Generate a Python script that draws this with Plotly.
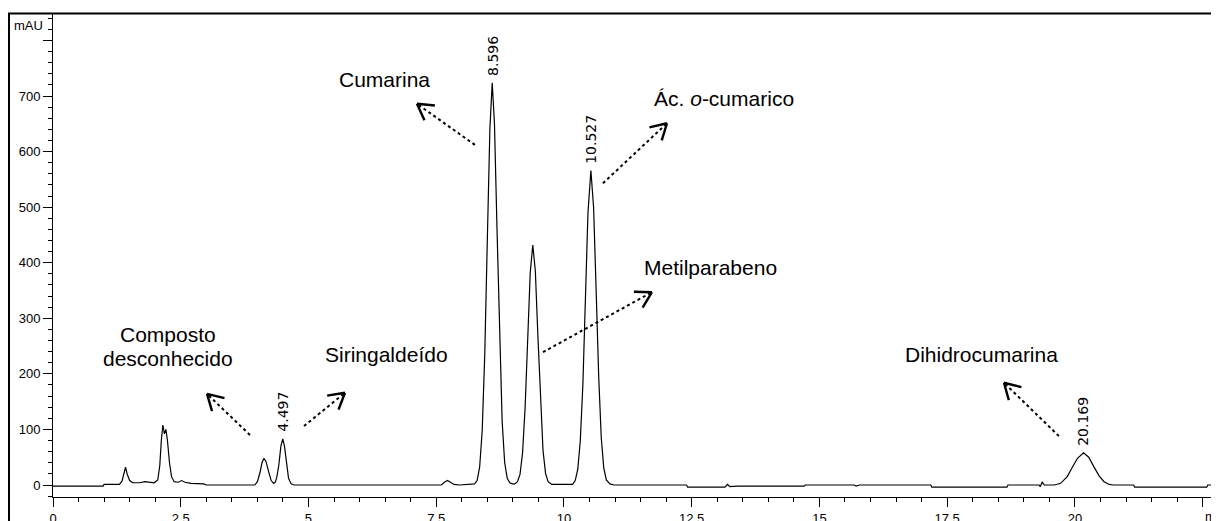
import math
import plotly.graph_objects as go

# ---------------- data ----------------
time_min = [
    0.00, 0.98, 1.00, 1.30, 1.35, 1.39, 1.42, 1.45, 1.50, 1.56, 1.70, 1.80, 1.90, 1.98,
    2.05, 2.09, 2.12, 2.15, 2.18, 2.21, 2.24, 2.28, 2.32, 2.37, 2.45, 2.52, 2.58, 2.70,
    2.95, 3.00, 3.95, 4.00, 4.05, 4.09, 4.13, 4.17, 4.22, 4.27, 4.32, 4.35, 4.38, 4.42,
    4.46, 4.497, 4.53, 4.57, 4.61, 4.66, 4.72, 7.60, 7.66, 7.72, 7.78, 7.85, 7.95, 8.25,
    8.30, 8.35, 8.40, 8.45, 8.50, 8.55, 8.596, 8.64, 8.69, 8.74, 8.79, 8.84, 8.89, 8.94,
    8.99, 9.04, 9.09, 9.14, 9.19, 9.24, 9.29, 9.34, 9.39, 9.44, 9.49, 9.54, 9.59, 9.64,
    9.69, 9.76, 10.17, 10.22, 10.27, 10.32, 10.37, 10.42, 10.47, 10.527, 10.58, 10.63,
    10.68, 10.73, 10.78, 10.83, 10.90, 10.98, 12.40, 12.42, 13.15, 13.20, 13.25, 13.39,
    14.70, 14.72, 15.68, 15.72, 15.78, 16.14, 17.18, 17.20, 18.67, 18.69, 19.30, 19.32,
    19.36, 19.40, 19.60, 19.72, 19.85, 19.95, 20.05, 20.169, 20.27, 20.37, 20.47, 20.57,
    20.67, 20.75, 21.15, 21.17, 22.58, 22.60, 22.82,
]
signal_mau = [
    -2, -2, 1, 1, 7, 25, 32, 20, 8, 4, 4, 6, 5, 4,
    9, 35, 80, 108, 92, 100, 80, 40, 15, 6, 5, 8, 5, 3,
    2, 0, 0, 6, 22, 40, 48, 42, 24, 8, 3, 5, 14, 36,
    70, 83, 70, 38, 12, 2, 0, 0, 5, 8, 5, 1, 0, 2,
    8, 32, 98, 235, 440, 640, 724, 650, 460, 260, 115, 40, 12, 4,
    2, 2, 6, 19, 58, 140, 262, 382, 432, 385, 268, 148, 62, 21,
    6, 1, 1, 8, 28, 80, 180, 335, 490, 566, 500, 350,
    195, 85, 30, 9, 2, 0, 0, -4, -4, 1, -3, -2,
    -2, 0, 0, -2, 0, 0, 0, -4, -4, 0, 0, -3,
    5, 0, 0, 3, 15, 32, 48, 58, 50, 33, 17, 6,
    1, 0, 0, -4, -4, 0, 0,
]

peak_rt = [4.497, 8.596, 10.527, 20.169]
peak_rt_labels = ["4.497", "8.596", "10.527", "20.169"]
peak_height = [83, 724, 566, 58]

ytick_vals = [0, 100, 200, 300, 400, 500, 600, 700, 800]
ytick_text = ["0", "100", "200", "300", "400", "500", "600", "700", ""]
xtick_vals = [0, 2.5, 5, 7.5, 10, 12.5, 15, 17.5, 20, 22.5]
xtick_text = ["0", "2.5", "5", "7.5", "10", "12.5", "15", "17.5", "20", ""]

# compound names and where they sit (time, mAU)
compound_text = ["Composto", "desconhecido", "Siringaldeído", "Cumarina",
                 "Ác. <i>o</i>-cumarico", "Metilparabeno", "Dihidrocumarina"]
compound_t = [2.25, 2.25, 6.52, 6.48, 13.13, 12.86, 18.18]
compound_v = [270, 227, 234, 729, 695, 392, 234]

# pointer arrows: tail (near peak) -> tip (towards the name)
arrow_tail_t = [3.855, 4.912, 8.258, 10.763, 9.589, 19.687]
arrow_tail_v = [90, 106, 612, 543, 239, 88]
arrow_tip_t = [3.014, 5.714, 7.123, 12.016, 11.722, 18.611]
arrow_tip_v = [164, 166, 686, 651, 347, 184]

# ---------------- layout geometry ----------------
# the page body adds an 8 px margin, so the figure is 8 px smaller each way
FIG_W, FIG_H = 1211, 513
M_L, M_R, M_T, M_B = 45, 0, 6, 24
X_RANGE = [0, 22.82]
Y_RANGE = [-21.6, 847.6]
PLOT_W = FIG_W - M_L - M_R
PLOT_H = FIG_H - M_T - M_B


def to_px(t, v):
    x = M_L + (t - X_RANGE[0]) / (X_RANGE[1] - X_RANGE[0]) * PLOT_W
    y = M_T + (Y_RANGE[1] - v) / (Y_RANGE[1] - Y_RANGE[0]) * PLOT_H
    return x, y


def to_data(x, y):
    t = X_RANGE[0] + (x - M_L) / PLOT_W * (X_RANGE[1] - X_RANGE[0])
    v = Y_RANGE[1] - (y - M_T) / PLOT_H * (Y_RANGE[1] - Y_RANGE[0])
    return t, v


def paper_x(px):
    return (px - M_L) / PLOT_W


def paper_y(py):
    return (FIG_H - M_B - py) / PLOT_H


FONT = "Arial, Liberation Sans, sans-serif"

fig = go.Figure()
fig.add_trace(go.Scatter(
    x=time_min, y=signal_mau, mode="lines",
    line=dict(color="black", width=1.2),
    hoverinfo="skip", showlegend=False,
))

annotations = []
for rt, lab, h in zip(peak_rt, peak_rt_labels, peak_height):
    annotations.append(dict(
        x=rt, y=h, xref="x", yref="y", text=lab, showarrow=False,
        textangle=-90, xanchor="center", yanchor="bottom", yshift=5,
        font=dict(family="DejaVu Sans, sans-serif", size=14, color="black"),
    ))

for txt, t, v in zip(compound_text, compound_t, compound_v):
    annotations.append(dict(
        x=t, y=v, xref="x", yref="y", text=txt, showarrow=False,
        xanchor="center", yanchor="middle",
        font=dict(family=FONT, size=21, color="black"),
    ))

annotations.append(dict(
    x=paper_x(37), y=paper_y(17), xref="paper", yref="paper",
    text="mAU", showarrow=False, xanchor="right", yanchor="middle",
    font=dict(family=FONT, size=13, color="black"),
))
annotations.append(dict(
    x=paper_x(1195), y=paper_y(509), xref="paper", yref="paper",
    text="min", showarrow=False, xanchor="left", yanchor="middle",
    font=dict(family=FONT, size=13, color="black"),
))

shapes = []
# outer frame (left and top edges visible)
shapes.append(dict(
    type="rect", xref="paper", yref="paper",
    x0=paper_x(1), x1=1.05,
    y0=-0.3, y1=paper_y(5.5),
    line=dict(color="black", width=2), fillcolor="rgba(0,0,0,0)", layer="above",
))

HEAD_LEN = 18
HEAD_ANG = math.radians(30)
for ts, vs, tt, vt in zip(arrow_tail_t, arrow_tail_v, arrow_tip_t, arrow_tip_v):
    shapes.append(dict(
        type="line", xref="x", yref="y", x0=ts, y0=vs, x1=tt, y1=vt,
        line=dict(color="black", width=2, dash="dot"),
    ))
    xs, ys = to_px(ts, vs)
    xt, yt = to_px(tt, vt)
    dx, dy = xs - xt, ys - yt
    n = math.hypot(dx, dy)
    dx, dy = dx / n, dy / n
    for s in (1, -1):
        ca, sa = math.cos(s * HEAD_ANG), math.sin(s * HEAD_ANG)
        ex = xt + HEAD_LEN * (dx * ca - dy * sa)
        ey = yt + HEAD_LEN * (dx * sa + dy * ca)
        et, ev = to_data(ex, ey)
        shapes.append(dict(
            type="line", xref="x", yref="y", x0=tt, y0=vt, x1=et, y1=ev,
            line=dict(color="black", width=2.4),
        ))

fig.update_layout(
    width=FIG_W, height=FIG_H,
    margin=dict(l=M_L, r=M_R, t=M_T, b=M_B, pad=0, autoexpand=False),
    paper_bgcolor="white", plot_bgcolor="white",
    font=dict(family=FONT, size=13, color="black"),
    showlegend=False,
    annotations=annotations,
    shapes=shapes,
    xaxis=dict(
        range=X_RANGE, showgrid=False, zeroline=False, automargin=False,
        showline=True, linecolor="black", linewidth=1,
        ticks="outside", ticklen=9, tickwidth=1, tickcolor="black",
        tickmode="array", tickvals=xtick_vals, ticktext=xtick_text,
        tickfont=dict(family=FONT, size=13, color="black"),
        minor=dict(dtick=0.5, ticks="outside", ticklen=4, tickcolor="black", showgrid=False),
        fixedrange=True,
    ),
    yaxis=dict(
        range=Y_RANGE, showgrid=False, zeroline=False, automargin=False,
        showline=True, linecolor="black", linewidth=1,
        ticks="outside", ticklen=9, tickwidth=1, tickcolor="black",
        tickmode="array", tickvals=ytick_vals, ticktext=ytick_text,
        tickfont=dict(family=FONT, size=13, color="black"),
        minor=dict(dtick=20, ticks="outside", ticklen=4, tickcolor="black", showgrid=False),
        fixedrange=True,
    ),
)

fig.write_html("out.html")
